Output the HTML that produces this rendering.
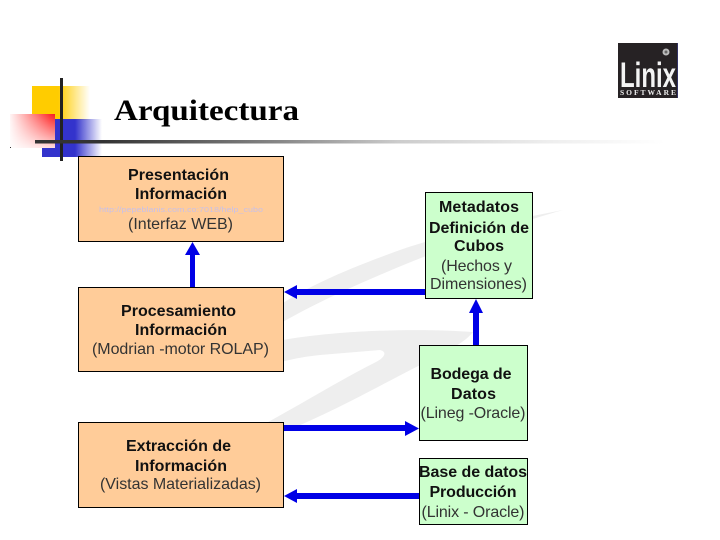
<!DOCTYPE html>
<html><head><meta charset="utf-8"><style>
html,body{margin:0;padding:0;background:#fff}
svg{display:block}
text{font-family:"Liberation Sans",sans-serif;font-size:16px;fill:#000;text-anchor:middle}
.b{font-weight:700;fill:#111}
.r{fill:#333}
</style></head><body>
<svg width="720" height="540" viewBox="0 0 720 540" xmlns="http://www.w3.org/2000/svg">
<defs>
<linearGradient id="y" x1="0" x2="1" y1="0" y2="0"><stop offset="0" stop-color="#ffcc00"/><stop offset=".45" stop-color="#ffcc00"/><stop offset="1" stop-color="#ffcc00" stop-opacity="0"/></linearGradient>
<linearGradient id="bl" x1="0" x2="1" y1="0" y2="0"><stop offset="0" stop-color="#3333cc"/><stop offset=".55" stop-color="#3333cc"/><stop offset="1" stop-color="#3333cc" stop-opacity="0"/></linearGradient>
<linearGradient id="rd" x1="0" x2="1" y1="0" y2="0"><stop offset="0" stop-color="#ff3333" stop-opacity=".05"/><stop offset=".9" stop-color="#ff2a2a"/><stop offset="1" stop-color="#ee2222"/></linearGradient>
<linearGradient id="rd2" x1="0" x2="0" y1="0" y2="1"><stop offset="0" stop-color="#fff" stop-opacity="0"/><stop offset="1" stop-color="#fff" stop-opacity=".85"/></linearGradient>
<linearGradient id="ln" x1="0" x2="1" y1="0" y2="0"><stop offset="0" stop-color="#333"/><stop offset=".1" stop-color="#333"/><stop offset=".36" stop-color="#888"/><stop offset=".53" stop-color="#ccc"/><stop offset=".75" stop-color="#eee"/><stop offset=".92" stop-color="#fff"/></linearGradient>
</defs>

<!-- watermark -->
<g fill="#eeeeee">
<path d="M563 210 C500 222 440 236 400 250 C350 268 310 285 280 305 L215 345 L235 352 C280 320 340 290 426 256 C470 240 520 222 563 210Z"/>
<path d="M473 332 C420 328 340 330 283 340 L240 350 L250 372 C270 365 290 358 320 355 L380 350 C388 352 384 358 376 362 C340 380 300 405 250 432 L262 440 C320 420 380 385 430 360 C450 350 465 342 473 332Z"/>
</g>

<!-- bullet decoration -->
<rect x="32" y="86" width="58" height="34" fill="url(#y)"/>
<rect x="42" y="119" width="60" height="38" fill="url(#bl)"/>
<rect x="10" y="114" width="45" height="34" fill="#fff"/>
<rect x="10" y="114" width="45" height="34" fill="url(#rd)"/>
<rect x="10" y="114" width="45" height="34" fill="url(#rd2)"/>
<rect x="60" y="78" width="3" height="83" fill="#222"/>
<rect x="35" y="140" width="685" height="3.500" fill="url(#ln)"/>
<rect x="10" y="147" width="1" height="1" fill="#333"/>

<!-- title -->
<text x="206.500" y="120" style="font-family:'Liberation Serif',serif;font-size:30px;font-weight:700" textLength="185" lengthAdjust="spacingAndGlyphs">Arquitectura</text>

<!-- logo -->
<rect x="618" y="43" width="60" height="55" fill="#262224"/>
<rect x="677" y="43" width="1" height="55" fill="#333366"/>
<circle cx="666" cy="52" r="3.500" fill="#bbb"/>
<circle cx="666" cy="52" r="1.500" fill="#666"/>
<text x="648" y="87" style="font-size:35px;font-weight:700;fill:#f4f4f4" textLength="56" lengthAdjust="spacingAndGlyphs">Linix</text>
<text x="648" y="95" style="font-size:7.500px;font-weight:700;fill:#eee;font-family:'Liberation Serif',serif" textLength="56" lengthAdjust="spacing">SOFTWARE</text>

<!-- boxes -->
<g stroke="#000" stroke-width="1">
<rect x="78.500" y="156.500" width="205" height="85" fill="#ffcc99"/>
<rect x="78.500" y="287.500" width="205" height="84" fill="#ffcc99"/>
<rect x="78.500" y="422.500" width="205" height="85" fill="#ffcc99"/>
<rect x="425.500" y="192.500" width="107" height="106" fill="#ccffcc"/>
<rect x="419.500" y="345.500" width="108" height="95" fill="#ccffcc"/>
<rect x="419.500" y="458.500" width="108" height="66" fill="#ccffcc"/>
</g>

<!-- arrows -->
<g fill="#0000e6">
<path d="M190 287V255H185L192.500 242L200 255H195V287Z"/>
<path d="M425 289V295H297V299L284 292L297 285V289Z"/>
<path d="M473 345V313H469L476 299L483 313H479V345Z"/>
<path d="M284 425H405V421L419 428.500L405 436V431H284Z"/>
<path d="M419 493V499H297V503L284 496L297 489V493Z"/>
</g>

<!-- left texts -->
<text class="b" x="178.500" y="180" textLength="101" lengthAdjust="spacing">Presentación</text>
<text class="b" x="181" y="199" textLength="92" lengthAdjust="spacing">Información</text>
<text x="181" y="212" style="font-size:7px;fill:#c8c0e8" textLength="164" lengthAdjust="spacingAndGlyphs">http://pepeblanis.com.co:7018/help_cubo</text>
<text class="r" x="180.500" y="229" textLength="105" lengthAdjust="spacing">(Interfaz WEB)</text>

<text class="b" x="178.500" y="316" textLength="115" lengthAdjust="spacing">Procesamiento</text>
<text class="b" x="181" y="335" textLength="92" lengthAdjust="spacing">Información</text>
<text class="r" x="180.500" y="354" textLength="177" lengthAdjust="spacing">(Modrian -motor ROLAP)</text>

<text class="b" x="178.500" y="451" textLength="105" lengthAdjust="spacing">Extracción de</text>
<text class="b" x="181" y="471" textLength="92" lengthAdjust="spacing">Información</text>
<text class="r" x="180.500" y="489" textLength="161" lengthAdjust="spacing">(Vistas Materializadas)</text>

<!-- right texts -->
<text class="b" x="479" y="212" textLength="80" lengthAdjust="spacing">Metadatos</text>
<text class="b" x="479" y="233" textLength="100" lengthAdjust="spacing">Definición de</text>
<text class="b" x="479" y="251" textLength="50" lengthAdjust="spacing">Cubos</text>
<text class="r" x="476.500" y="271" textLength="71" lengthAdjust="spacing">(Hechos y</text>
<text class="r" x="478.500" y="289" textLength="97" lengthAdjust="spacing">Dimensiones)</text>

<text class="b" x="471" y="379" textLength="81" lengthAdjust="spacing">Bodega de</text>
<text class="b" x="473.500" y="399" textLength="45" lengthAdjust="spacing">Datos</text>
<text class="r" x="473" y="418" textLength="105" lengthAdjust="spacing">(Lineg -Oracle)</text>

<text class="b" x="473" y="477" textLength="108" lengthAdjust="spacing">Base de datos</text>
<text class="b" x="473" y="497" textLength="87" lengthAdjust="spacing">Producción</text>
<text class="r" x="473" y="517" textLength="103" lengthAdjust="spacing">(Linix - Oracle)</text>
</svg>
</body></html>
